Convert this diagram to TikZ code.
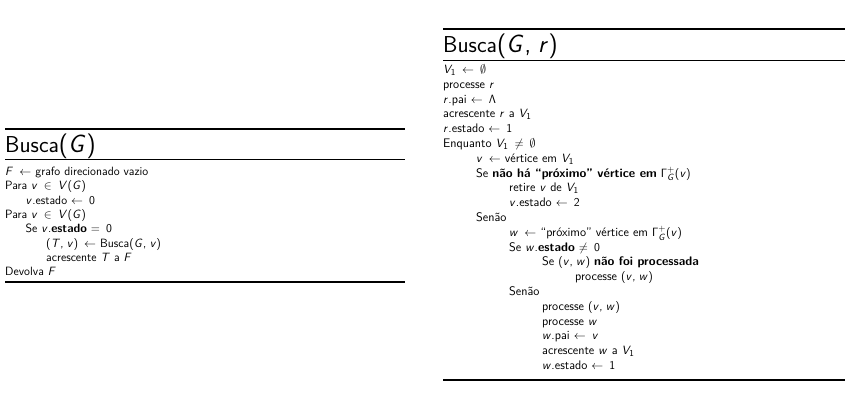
\documentclass[tikz,border=0pt]{standalone}
% sans-serif math, as on a beamer slide
\DeclareSymbolFont{sfit}{OT1}{cmss}{m}{sl}
\SetSymbolFont{operators}{normal}{OT1}{cmss}{m}{n}
\DeclareMathSymbol{F}{\mathalpha}{sfit}{`F}
\DeclareMathSymbol{G}{\mathalpha}{sfit}{`G}
\DeclareMathSymbol{T}{\mathalpha}{sfit}{`T}
\DeclareMathSymbol{V}{\mathalpha}{sfit}{`V}
\DeclareMathSymbol{r}{\mathalpha}{sfit}{`r}
\DeclareMathSymbol{v}{\mathalpha}{sfit}{`v}
\DeclareMathSymbol{w}{\mathalpha}{sfit}{`w}
\DeclareMathSymbol{,}{\mathpunct}{operators}{`,}
\thinmuskip=5mu
\medmuskip=6mu
\thickmuskip=9mu
\newcommand{\lbodyfnt}{\sffamily\fontsize{12}{14}\selectfont}
\newcommand{\rbodyfnt}{\sffamily\fontsize{12.4}{14}\selectfont}
\newcommand{\titlefnt}{\sffamily\fontsize{23}{27}\selectfont}
\tikzset{
  lln/.style={anchor=base west, inner sep=0pt, font=\lbodyfnt},
  rln/.style={anchor=base west, inner sep=0pt, font=\rbodyfnt},
  ttl/.style={anchor=base west, inner sep=0pt, font=\titlefnt},
  thickrule/.style={line width=2pt},
  thinrule/.style={line width=1.3pt}
}
\begin{document}
\begin{tikzpicture}[x=1pt,y=-1pt]
\useasboundingbox (0,0) rectangle (862,405);
% ---------- left box ----------
\def\LL{5}\def\LI{20.5}\def\LP{14.3}\def\LB{175.5}
\draw[thickrule] (5,129) -- (405,129);
\node[ttl] (lt) at (5,152) {Busca$(G)$};
\draw[thinrule] (5,159.5) -- (405,159.5);
\node[lln] (l1) at (\LL,\LB) {$F \leftarrow$ grafo direcionado vazio};
\node[lln] (l2) at (\LL,\LB+\LP) {Para $v \in V(G)$};
\node[lln] (l3) at (\LL+\LI,\LB+2*\LP) {$v$.estado $\leftarrow 0$};
\node[lln] (l4) at (\LL,\LB+3*\LP) {Para $v \in V(G)$};
\node[lln] (l5) at (\LL+\LI,\LB+4*\LP) {Se $v$.\textbf{estado} $= 0$};
\node[lln] (l6) at (\LL+2*\LI,\LB+5*\LP) {$(T, v) \leftarrow$ Busca$(G, v)$};
\node[lln] (l7) at (\LL+2*\LI,\LB+6*\LP) {acrescente $T$ a $F$};
\node[lln] (l8) at (\LL,\LB+7*\LP) {Devolva $F$};
\draw[thickrule] (5,282) -- (405,282);
% ---------- right box ----------
\def\RL{443}\def\RI{33}\def\RP{14.8}\def\RB{73.5}
\draw[thickrule] (443,29) -- (845,29);
\node[ttl] (rt) at (443,52) {Busca$(G, r)$};
\draw[thinrule] (443,60.5) -- (845,60.5);
\node[rln] (r1) at (\RL,\RB) {$V_1 \leftarrow \emptyset$};
\node[rln] (r2) at (\RL,\RB+\RP) {processe $r$};
\node[rln] (r3) at (\RL,\RB+2*\RP) {$r$.pai $\leftarrow \Lambda$};
\node[rln] (r4) at (\RL,\RB+3*\RP) {acrescente $r$ a $V_1$};
\node[rln] (r5) at (\RL,\RB+4*\RP) {$r$.estado $\leftarrow 1$};
\node[rln] (r6) at (\RL,\RB+5*\RP) {Enquanto $V_1 \neq \emptyset$};
\node[rln] (r7) at (\RL+\RI,\RB+6*\RP) {$v \leftarrow$ vértice em $V_1$};
\node[rln] (r8) at (\RL+\RI,\RB+7*\RP) {Se \textbf{não há ``próximo'' vértice em} $\Gamma^+_G(v)$};
\node[rln] (r9) at (\RL+2*\RI,\RB+8*\RP) {retire $v$ de $V_1$};
\node[rln] (r10) at (\RL+2*\RI,\RB+9*\RP) {$v$.estado $\leftarrow 2$};
\node[rln] (r11) at (\RL+\RI,\RB+10*\RP) {Senão};
\node[rln] (r12) at (\RL+2*\RI,\RB+11*\RP) {$w \leftarrow$ ``próximo'' vértice em $\Gamma^+_G(v)$};
\node[rln] (r13) at (\RL+2*\RI,\RB+12*\RP) {Se $w$.\textbf{estado} $\neq 0$};
\node[rln] (r14) at (\RL+3*\RI,\RB+13*\RP) {Se $(v, w)$ \textbf{não foi processada}};
\node[rln] (r15) at (\RL+4*\RI,\RB+14*\RP) {processe $(v, w)$};
\node[rln] (r16) at (\RL+2*\RI,\RB+15*\RP) {Senão};
\node[rln] (r17) at (\RL+3*\RI,\RB+16*\RP) {processe $(v, w)$};
\node[rln] (r18) at (\RL+3*\RI,\RB+17*\RP) {processe $w$};
\node[rln] (r19) at (\RL+3*\RI,\RB+18*\RP) {$w$.pai $\leftarrow v$};
\node[rln] (r20) at (\RL+3*\RI,\RB+19*\RP) {acrescente $w$ a $V_1$};
\node[rln] (r21) at (\RL+3*\RI,\RB+20*\RP) {$w$.estado $\leftarrow 1$};
\draw[thickrule] (443,380) -- (845,380);
\end{tikzpicture}
\end{document}
